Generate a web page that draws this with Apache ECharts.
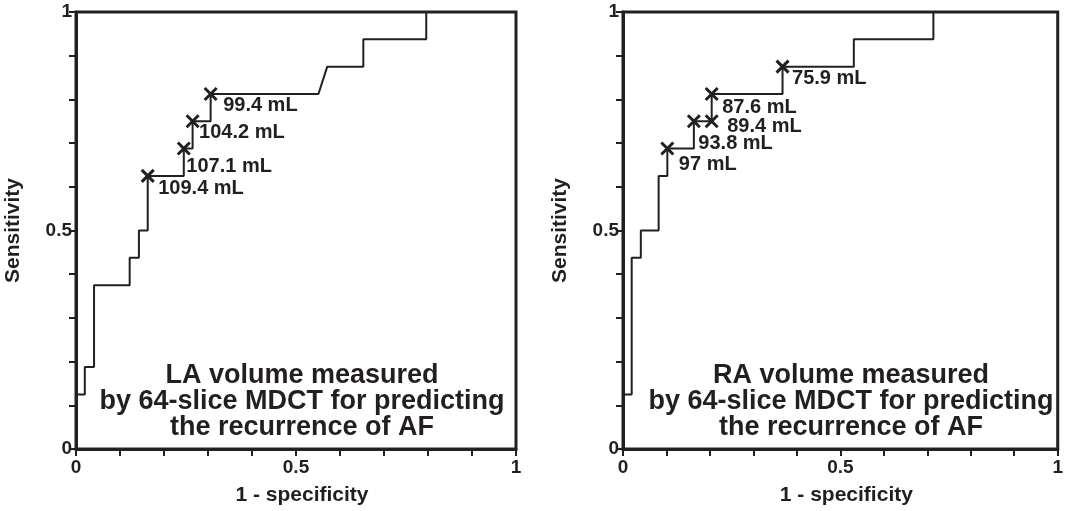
<!DOCTYPE html>
<html>
<head>
<meta charset="utf-8">
<script src="https://cdn.jsdelivr.net/npm/echarts@6/dist/echarts.min.js"></script>
<style>
  html, body { margin: 0; padding: 0; background: #fff; }
  #main { width: 1066px; height: 511px; }
</style>
</head>
<body>
<div id="main"></div>
<script>
// LA volume ROC curve (vertices of the step line)
var laFpr = [0, 0, 0.020, 0.020, 0.041, 0.041, 0.122, 0.122, 0.143, 0.143, 0.163, 0.163, 0.245, 0.245, 0.265, 0.265, 0.306, 0.306, 0.551, 0.571, 0.653, 0.653, 0.796, 0.796, 1]
var laTpr = [0, 0.125, 0.125, 0.1875, 0.1875, 0.375, 0.375, 0.4375, 0.4375, 0.5, 0.5, 0.625, 0.625, 0.6875, 0.6875, 0.75, 0.75, 0.8125, 0.8125, 0.875, 0.875, 0.9375, 0.9375, 1, 1]
// LA cut-off points
var laCutFpr = [0.163, 0.245, 0.265, 0.306]
var laCutTpr = [0.625, 0.6875, 0.75, 0.8125]
var laCutNames = ['109.4 mL', '107.1 mL', '104.2 mL', '99.4 mL']

// RA volume ROC curve
var raFpr = [0, 0, 0.020, 0.020, 0.041, 0.041, 0.082, 0.082, 0.102, 0.102, 0.163, 0.163, 0.204, 0.204, 0.367, 0.367, 0.531, 0.531, 0.714, 0.714, 1]
var raTpr = [0, 0.125, 0.125, 0.4375, 0.4375, 0.5, 0.5, 0.625, 0.625, 0.6875, 0.6875, 0.75, 0.75, 0.8125, 0.8125, 0.875, 0.875, 0.9375, 0.9375, 1, 1]
// RA cut-off points
var raCutFpr = [0.102, 0.163, 0.204, 0.204, 0.367]
var raCutTpr = [0.6875, 0.75, 0.75, 0.8125, 0.875]
var raCutNames = ['97 mL', '93.8 mL', '89.4 mL', '87.6 mL', '75.9 mL']

var titleLA = 'LA volume measured\nby 64-slice MDCT for predicting\nthe recurrence of AF'
var titleRA = 'RA volume measured\nby 64-slice MDCT for predicting\nthe recurrence of AF'

// label offsets relative to each cross (layout only)
var laLabelOffset = [[9, 13], [1, 18], [5, 11], [11, 12]]
var raLabelOffset = [[10, 16], [3, 22], [14, 5], [9, 14], [8, 12]]

var ink = '#231f20'
var font = 'Liberation Sans, Arial, sans-serif'

function pairs(xs, ys) {
  var out = []
  for (var i = 0; i < xs.length; i++) out.push([xs[i], ys[i]])
  return out
}

function cutData(xs, ys, names, offsets) {
  var out = []
  for (var i = 0; i < xs.length; i++) {
    out.push({
      name: names[i],
      value: [xs[i], ys[i]],
      // position 'right' starts the text at the cross edge (half the symbol)
      label: { offset: [offsets[i][0] - 6, offsets[i][1]] }
    })
  }
  return out
}

function tickLabel(v) {
  if (Math.abs(v) < 1e-6) return '0'
  if (Math.abs(v - 0.5) < 1e-6) return '0.5'
  if (Math.abs(v - 1) < 1e-6) return '1'
  return ''
}

function makeXAxis(idx) {
  return {
    gridIndex: idx,
    type: 'value',
    min: 0,
    max: 1,
    interval: 0.1,
    name: '1 - specificity',
    nameLocation: 'middle',
    nameGap: 36,
    nameTextStyle: { color: ink, fontFamily: font, fontWeight: 'bold', fontSize: 21, padding: [0, 0, 0, 12] },
    axisLine: { show: true, lineStyle: { color: ink, width: 3 } },
    axisTick: { show: true, length: 7, lineStyle: { color: ink, width: 2 } },
    axisLabel: { color: ink, fontFamily: font, fontWeight: 'bold', fontSize: 19, margin: 9, formatter: tickLabel },
    splitLine: { show: false }
  }
}

function makeYAxis(idx) {
  return {
    gridIndex: idx,
    type: 'value',
    min: 0,
    max: 1,
    interval: 0.1,
    name: 'Sensitivity',
    nameLocation: 'middle',
    nameGap: 52,
    nameTextStyle: { color: ink, fontFamily: font, fontWeight: 'bold', fontSize: 21 },
    axisLine: { show: true, lineStyle: { color: ink, width: 3 } },
    axisTick: { show: true, length: 7, lineStyle: { color: ink, width: 2 } },
    axisLabel: { color: ink, fontFamily: font, fontWeight: 'bold', fontSize: 19, margin: 4, formatter: tickLabel },
    splitLine: { show: false }
  }
}

function curveSeries(idx, xs, ys) {
  return {
    type: 'line',
    xAxisIndex: idx,
    yAxisIndex: idx,
    data: pairs(xs, ys),
    showSymbol: false,
    animation: false,
    lineStyle: { color: ink, width: 2 },
    z: 3
  }
}

function cutSeries(idx, xs, ys, names, offsets) {
  return {
    type: 'scatter',
    xAxisIndex: idx,
    yAxisIndex: idx,
    data: cutData(xs, ys, names, offsets),
    symbol: 'path://M0,0L10,10M10,0L0,10',
    symbolSize: 12,
    animation: false,
    itemStyle: { color: 'transparent', borderColor: ink, borderWidth: 3, opacity: 1 },
    label: {
      show: true,
      position: 'right',
      distance: 0,
      align: 'left',
      verticalAlign: 'middle',
      formatter: '{b}',
      color: ink,
      textBorderWidth: 0,
      fontFamily: font,
      fontWeight: 'bold',
      fontSize: 20
    },
    z: 4
  }
}

var chart = echarts.init(document.getElementById('main'))

var option = {
  backgroundColor: '#fff',
  animation: false,
  title: [
    {
      text: titleLA,
      left: 297,
      top: 358,
      textAlign: 'center',
      textStyle: { color: ink, fontFamily: font, fontWeight: 'bold', fontSize: 27, lineHeight: 26 }
    },
    {
      text: titleRA,
      left: 846,
      top: 358,
      textAlign: 'center',
      textStyle: { color: ink, fontFamily: font, fontWeight: 'bold', fontSize: 27, lineHeight: 26 }
    }
  ],
  grid: [
    { left: 76, top: 12, width: 440, height: 441, show: true, borderWidth: 3, borderColor: ink },
    { left: 623, top: 12, width: 440, height: 443, show: true, borderWidth: 3, borderColor: ink }
  ],
  xAxis: [makeXAxis(0), makeXAxis(1)],
  yAxis: [makeYAxis(0), makeYAxis(1)],
  series: [
    curveSeries(0, laFpr, laTpr),
    cutSeries(0, laCutFpr, laCutTpr, laCutNames, laLabelOffset),
    curveSeries(1, raFpr, raTpr),
    cutSeries(1, raCutFpr, raCutTpr, raCutNames, raLabelOffset)
  ]
}

chart.setOption(option)
</script>
</body>
</html>
